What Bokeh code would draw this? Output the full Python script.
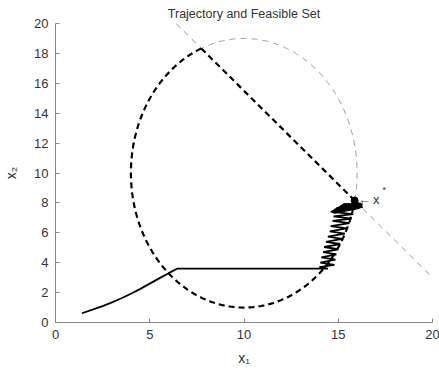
import numpy as np
from bokeh.plotting import figure
from bokeh.models import Range1d, FixedTicker
from bokeh.embed import file_html
from bokeh.resources import INLINE
from bokeh.core.properties import value

# ---------------- data ----------------
title_text = "Trajectory and Feasible Set"
x_ticks = [0, 5, 10, 15, 20]
y_ticks = [0, 2, 4, 6, 8, 10, 12, 14, 16, 18, 20]

# feasible set: ellipse ((x1-cx)/rx)^2 + ((x2-cy)/ry)^2 <= 1 and line a*x1 + b*x2 = c
ell_cx, ell_cy = 10.0, 10.0
ell_rx, ell_ry = 6.0, 9.0
line_a, line_b, line_c = 1.0, 0.8, 22.4
line_x_start, line_x_end = 6.4, 19.9

# trajectory
smooth_x = [1.4, 2.0, 2.5, 3.0, 3.5, 4.0, 4.5, 5.0, 5.5, 6.0, 6.45]
smooth_y = [0.62, 0.88, 1.1, 1.35, 1.62, 1.92, 2.25, 2.6, 2.95, 3.3, 3.6]
flat_x = [14.45]
flat_y = [3.6]
zig_x = [14.0, 14.8, 14.05, 14.85, 14.1, 14.9, 14.2, 15.0, 14.25, 15.1, 14.35, 15.2,
         14.45, 15.35, 14.55, 15.45, 14.6, 15.6, 14.7, 15.7, 14.75, 15.8, 14.7]
zig_y = [3.7, 3.85, 4.0, 4.2, 4.35, 4.55, 4.7, 4.9, 5.05, 5.25, 5.4, 5.6,
         5.75, 5.95, 6.1, 6.3, 6.45, 6.65, 6.8, 6.95, 7.1, 7.25, 7.4]
blob_x = [16.1, 14.7, 16.2, 14.8, 16.25, 14.9, 16.3, 15.1, 16.2, 15.4, 16.1, 15.87]
blob_y = [7.75, 7.45, 7.8, 7.55, 7.85, 7.65, 7.9, 7.75, 7.95, 7.85, 7.95, 8.16]
blob_fill_x = [14.6, 15.0, 15.3, 15.9, 16.3, 16.0, 15.4, 14.8]
blob_fill_y = [7.4, 7.7, 7.95, 7.95, 7.72, 7.6, 7.45, 7.3]
xstar = [15.87]
ystar = [8.16]

# ---------------- geometry ----------------
R = np.hypot(line_a * ell_rx, line_b * ell_ry)
phi = np.arctan2(line_b * ell_ry, line_a * ell_rx)
k = (line_c - line_a * ell_cx - line_b * ell_cy) / R
d = np.arccos(k)
t_top = phi + d
t_bot = phi - d

t_thick = np.linspace(t_top, t_bot + 2 * np.pi, 300)
t_thin = np.linspace(t_bot, t_top, 200)
ex_thick = ell_cx + ell_rx * np.cos(t_thick)
ey_thick = ell_cy + ell_ry * np.sin(t_thick)
ex_thin = ell_cx + ell_rx * np.cos(t_thin)
ey_thin = ell_cy + ell_ry * np.sin(t_thin)

x_top = ell_cx + ell_rx * np.cos(t_top)
x_bot = ell_cx + ell_rx * np.cos(t_bot)


def line_y(x):
    return (line_c - line_a * np.asarray(x)) / line_b


# ---------------- figure ----------------
FONT = "Liberation Sans"
p = figure(width=439, height=371, frame_width=377, frame_height=299,
           x_range=Range1d(0, 20), y_range=Range1d(0, 20),
           output_backend="svg", toolbar_location=None,
           min_border_left=53, min_border_right=9, min_border_top=23, min_border_bottom=49)
p.outline_line_color = None
p.grid.visible = False

p.title.text = title_text
p.title.align = "center"
p.title.text_font = FONT
p.title.text_font_size = "12.5px"
p.title.text_font_style = "normal"
p.title.text_color = "#333333"
p.title.standoff = 6

for ax, ticks, lab in ((p.xaxis, x_ticks, "x\u2081"), (p.yaxis, y_ticks, "x\u2082")):
    ax.ticker = FixedTicker(ticks=ticks)
    ax.axis_label = lab
    ax.axis_label_text_font = FONT
    ax.axis_label_text_font_size = "14px"
    ax.axis_label_text_font_style = "normal"
    ax.axis_label_text_color = "#333333"
    ax.major_label_text_font = FONT
    ax.major_label_text_font_size = "13px"
    ax.major_label_text_color = "#333333"
    ax.axis_line_color = "#888888"
    ax.major_tick_line_color = "#888888"
    ax.major_tick_in = 4
    ax.major_tick_out = 0
    ax.minor_tick_line_color = None
p.xaxis.major_label_standoff = 7
p.yaxis.major_label_standoff = 7
p.xaxis.axis_label_standoff = 8
p.yaxis.axis_label_standoff = 12

# feasible set lines
p.line(ex_thin, ey_thin, line_color="#999999", line_width=1, line_dash="6 5")
p.line([line_x_start, x_top], line_y([line_x_start, x_top]), line_color="#999999",
       line_width=1, line_dash="6 5")
p.line([x_bot, line_x_end], line_y([x_bot, line_x_end]), line_color="#999999",
       line_width=1, line_dash="6 5")
p.line(ex_thick, ey_thick, line_color="black", line_width=2.2, line_dash="6 4")
p.line([x_top, x_bot], line_y([x_top, x_bot]), line_color="black", line_width=2.2,
       line_dash="6 4")

# trajectory
tx = smooth_x + flat_x + zig_x + blob_x
ty = smooth_y + flat_y + zig_y + blob_y
p.line(tx, ty, line_color="black", line_width=1.8)
p.patch(blob_fill_x, blob_fill_y, fill_color="black", line_color="black", line_width=1)
p.scatter(xstar, ystar, size=7, color="black")

# annotation
p.text(x=[16.05], y=[8.2], text=["\u2190"], text_font=value(FONT), text_font_size="13px",
       text_color="#555555", text_baseline="middle", text_align="left")
p.text(x=[16.85], y=[8.2], text=["x"], text_font=value(FONT), text_font_size="13px",
       text_color="#333333", text_baseline="middle", text_align="left")
p.text(x=[17.35], y=[8.85], text=["*"], text_font=value(FONT), text_font_size="9px",
       text_color="#333333", text_baseline="middle", text_align="left")

open("out.html", "w").write(file_html(p, INLINE))
